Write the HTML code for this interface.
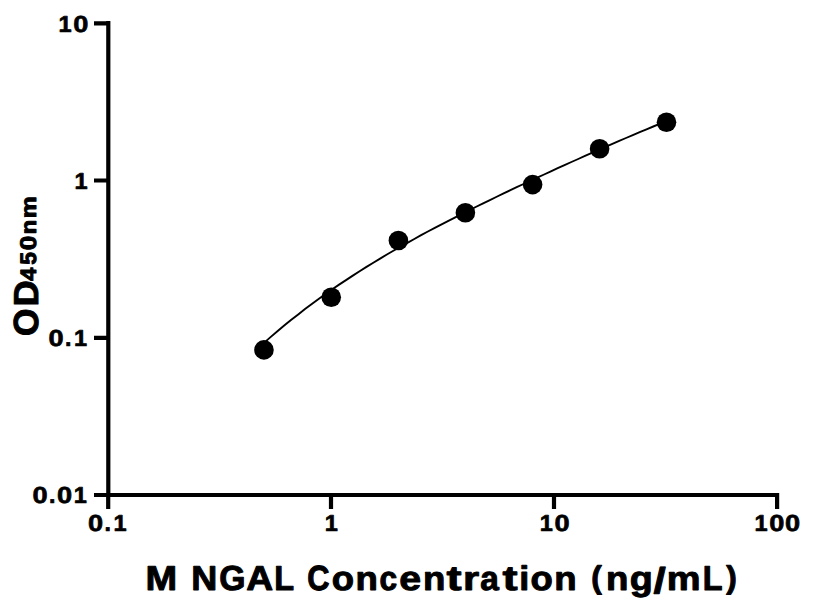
<!DOCTYPE html>
<html><head><meta charset="utf-8"><title>M NGAL standard curve</title><style>
html,body{margin:0;padding:0;background:#fff;}
svg{display:block;}
text{font-family:"Liberation Sans",sans-serif;font-weight:bold;fill:#000;font-kerning:none;text-rendering:geometricPrecision;}
</style></head><body>
<svg width="816" height="612" viewBox="0 0 816 612">
<rect width="816" height="612" fill="#fff"/>
<g stroke="#000" stroke-width="4.2" fill="none" stroke-linecap="butt">
<path d="M108.3,21 V497.1 M94,23.3 H110.4 M94,180.5 H108 M94,337.8 H108 M94,495 H777.1 V509"/>
<path d="M108.2,495 V509 M331,495 V509 M554,495 V509"/>
</g>
<path d="M264.0,342.9 L270.8,336.9 L277.7,331.0 L284.5,325.3 L291.3,319.8 L298.2,314.4 L305.0,309.1 L311.8,304.0 L318.6,299.0 L325.5,294.1 L332.3,289.3 L339.1,284.6 L346.0,280.1 L352.8,275.6 L359.6,271.2 L366.5,266.9 L373.3,262.7 L380.1,258.6 L386.9,254.5 L393.8,250.5 L400.6,246.6 L407.4,242.8 L414.3,239.0 L421.1,235.2 L427.9,231.5 L434.8,227.9 L441.6,224.3 L448.4,220.8 L455.3,217.3 L462.1,213.8 L468.9,210.4 L475.7,207.0 L482.6,203.6 L489.4,200.3 L496.2,197.0 L503.1,193.7 L509.9,190.4 L516.7,187.2 L523.6,184.0 L530.4,180.8 L537.2,177.6 L544.1,174.5 L550.9,171.3 L557.7,168.2 L564.5,165.1 L571.4,162.0 L578.2,159.0 L585.0,155.9 L591.9,152.9 L598.7,149.9 L605.5,146.9 L612.4,143.9 L619.2,140.9 L626.0,138.0 L632.8,135.1 L639.7,132.2 L646.5,129.3 L653.3,126.5 L660.2,123.7 L667.0,120.9" stroke="#000" stroke-width="1.9" fill="none"/>
<g fill="#000">
<circle cx="263.96" cy="349.9" r="9.8"/>
<circle cx="331.25" cy="297.25" r="9.8"/>
<circle cx="398.4" cy="240.5" r="9.8"/>
<circle cx="465.4" cy="212.8" r="9.8"/>
<circle cx="532.6" cy="184.6" r="9.8"/>
<circle cx="599.6" cy="148.8" r="9.8"/>
<circle cx="666.5" cy="122.2" r="9.8"/>
</g>
<text transform="translate(58.56,31.65) scale(0.23545,0.23004)" font-size="100" stroke="#000" stroke-width="3.01" stroke-linejoin="round">1</text>
<text transform="translate(73.27,31.74) scale(0.27133,0.23229)" font-size="100" stroke="#000" stroke-width="2.78" stroke-linejoin="round">0</text>
<text transform="translate(74.61,188.85) scale(0.23545,0.23004)" font-size="100" stroke="#000" stroke-width="3.01" stroke-linejoin="round">1</text>
<text transform="translate(48.56,346.24) scale(0.27133,0.23229)" font-size="100" stroke="#000" stroke-width="2.78" stroke-linejoin="round">0</text>
<text transform="translate(65.06,346.15) scale(0.23279,0.24065)" font-size="100" stroke="#000" stroke-width="2.96" stroke-linejoin="round">.</text>
<text transform="translate(74.01,346.15) scale(0.23545,0.23004)" font-size="100" stroke="#000" stroke-width="3.01" stroke-linejoin="round">1</text>
<text transform="translate(32.59,503.44) scale(0.27133,0.23229)" font-size="100" stroke="#000" stroke-width="2.78" stroke-linejoin="round">0</text>
<text transform="translate(49.08,503.35) scale(0.23279,0.24065)" font-size="100" stroke="#000" stroke-width="2.96" stroke-linejoin="round">.</text>
<text transform="translate(56.97,503.44) scale(0.27133,0.23229)" font-size="100" stroke="#000" stroke-width="2.78" stroke-linejoin="round">0</text>
<text transform="translate(73.81,503.35) scale(0.23545,0.23004)" font-size="100" stroke="#000" stroke-width="3.01" stroke-linejoin="round">1</text>
<text transform="translate(88.07,531.34) scale(0.27133,0.23229)" font-size="100" stroke="#000" stroke-width="2.78" stroke-linejoin="round">0</text>
<text transform="translate(104.57,531.25) scale(0.23279,0.24065)" font-size="100" stroke="#000" stroke-width="2.96" stroke-linejoin="round">.</text>
<text transform="translate(113.52,531.25) scale(0.23545,0.23004)" font-size="100" stroke="#000" stroke-width="3.01" stroke-linejoin="round">1</text>
<text transform="translate(324.84,531.25) scale(0.23545,0.23004)" font-size="100" stroke="#000" stroke-width="3.01" stroke-linejoin="round">1</text>
<text transform="translate(539.66,531.25) scale(0.23545,0.23004)" font-size="100" stroke="#000" stroke-width="3.01" stroke-linejoin="round">1</text>
<text transform="translate(554.38,531.34) scale(0.27133,0.23229)" font-size="100" stroke="#000" stroke-width="2.78" stroke-linejoin="round">0</text>
<text transform="translate(754.48,531.25) scale(0.23545,0.23004)" font-size="100" stroke="#000" stroke-width="3.01" stroke-linejoin="round">1</text>
<text transform="translate(769.19,531.34) scale(0.27133,0.23229)" font-size="100" stroke="#000" stroke-width="2.78" stroke-linejoin="round">0</text>
<text transform="translate(784.96,531.34) scale(0.27133,0.23229)" font-size="100" stroke="#000" stroke-width="2.78" stroke-linejoin="round">0</text>
<text transform="translate(145.48,590.30) scale(0.38007,0.34573)" font-size="100" stroke="#000" stroke-width="2.76" stroke-linejoin="round">M</text>
<text transform="translate(191.28,590.30) scale(0.36083,0.34573)" font-size="100" stroke="#000" stroke-width="2.83" stroke-linejoin="round">N</text>
<text transform="translate(219.34,590.44) scale(0.33650,0.34909)" font-size="100" stroke="#000" stroke-width="2.92" stroke-linejoin="round">G</text>
<text transform="translate(246.17,590.30) scale(0.37236,0.34573)" font-size="100" stroke="#000" stroke-width="2.79" stroke-linejoin="round">A</text>
<text transform="translate(274.20,590.30) scale(0.32375,0.34573)" font-size="100" stroke="#000" stroke-width="2.99" stroke-linejoin="round">L</text>
<text transform="translate(307.18,590.44) scale(0.30718,0.34909)" font-size="100" stroke="#000" stroke-width="3.05" stroke-linejoin="round">C</text>
<text transform="translate(331.74,590.45) scale(0.36486,0.33811)" font-size="100" stroke="#000" stroke-width="2.85" stroke-linejoin="round">o</text>
<text transform="translate(355.50,590.30) scale(0.36639,0.33500)" font-size="100" stroke="#000" stroke-width="2.85" stroke-linejoin="round">n</text>
<text transform="translate(379.49,590.45) scale(0.31610,0.33811)" font-size="100" stroke="#000" stroke-width="3.06" stroke-linejoin="round">c</text>
<text transform="translate(399.35,590.45) scale(0.39252,0.33811)" font-size="100" stroke="#000" stroke-width="2.74" stroke-linejoin="round">e</text>
<text transform="translate(422.92,590.30) scale(0.36639,0.33500)" font-size="100" stroke="#000" stroke-width="2.85" stroke-linejoin="round">n</text>
<text transform="translate(446.58,590.00) scale(0.45446,0.34597)" font-size="100" stroke="#000" stroke-width="2.50" stroke-linejoin="round">t</text>
<text transform="translate(463.05,590.30) scale(0.41585,0.33500)" font-size="100" stroke="#000" stroke-width="2.66" stroke-linejoin="round">r</text>
<text transform="translate(480.19,590.45) scale(0.33401,0.33811)" font-size="100" stroke="#000" stroke-width="2.98" stroke-linejoin="round">a</text>
<text transform="translate(502.54,590.00) scale(0.45446,0.34597)" font-size="100" stroke="#000" stroke-width="2.50" stroke-linejoin="round">t</text>
<text transform="translate(519.24,590.30) scale(0.36028,0.34270)" font-size="100" stroke="#000" stroke-width="2.85" stroke-linejoin="round">i</text>
<text transform="translate(530.59,590.45) scale(0.36486,0.33811)" font-size="100" stroke="#000" stroke-width="2.85" stroke-linejoin="round">o</text>
<text transform="translate(554.35,590.30) scale(0.36639,0.33500)" font-size="100" stroke="#000" stroke-width="2.85" stroke-linejoin="round">n</text>
<text transform="translate(591.31,588.26) scale(0.31516,0.31413)" font-size="100" stroke="#000" stroke-width="3.18" stroke-linejoin="round">(</text>
<text transform="translate(605.93,590.30) scale(0.36639,0.33500)" font-size="100" stroke="#000" stroke-width="2.85" stroke-linejoin="round">n</text>
<text transform="translate(629.68,590.48) scale(0.37689,0.33774)" font-size="100" stroke="#000" stroke-width="2.80" stroke-linejoin="round">g</text>
<text transform="translate(653.61,592.73) scale(0.44204,0.36180)" font-size="100" stroke="#000" stroke-width="2.49" stroke-linejoin="round">/</text>
<text transform="translate(666.77,590.30) scale(0.37986,0.33500)" font-size="100" stroke="#000" stroke-width="2.80" stroke-linejoin="round">m</text>
<text transform="translate(702.84,590.30) scale(0.32375,0.34573)" font-size="100" stroke="#000" stroke-width="2.99" stroke-linejoin="round">L</text>
<text transform="translate(726.24,588.26) scale(0.31516,0.31413)" font-size="100" stroke="#000" stroke-width="3.18" stroke-linejoin="round">)</text>
<g transform="translate(38.6,336.7) rotate(-90)">
<text transform="translate(0.75,-0.36) scale(0.35261,0.34909)" font-size="100" stroke="#000" stroke-width="2.85" stroke-linejoin="round">O</text>
<text transform="translate(30.09,-0.50) scale(0.36403,0.34573)" font-size="100" stroke="#000" stroke-width="2.82" stroke-linejoin="round">D</text>
<text transform="translate(55.84,-2.80) scale(0.23546,0.22388)" font-size="100" stroke="#000" stroke-width="4.35" stroke-linejoin="round">4</text>
<text transform="translate(71.88,-2.70) scale(0.22809,0.22531)" font-size="100" stroke="#000" stroke-width="4.41" stroke-linejoin="round">5</text>
<text transform="translate(86.54,-2.70) scale(0.26288,0.22624)" font-size="100" stroke="#000" stroke-width="4.09" stroke-linejoin="round">0</text>
<text transform="translate(102.49,-2.80) scale(0.23546,0.21541)" font-size="100" stroke="#000" stroke-width="4.44" stroke-linejoin="round">n</text>
<text transform="translate(118.41,-2.80) scale(0.24693,0.21541)" font-size="100" stroke="#000" stroke-width="4.33" stroke-linejoin="round">m</text>
</g>
</svg>
</body></html>
